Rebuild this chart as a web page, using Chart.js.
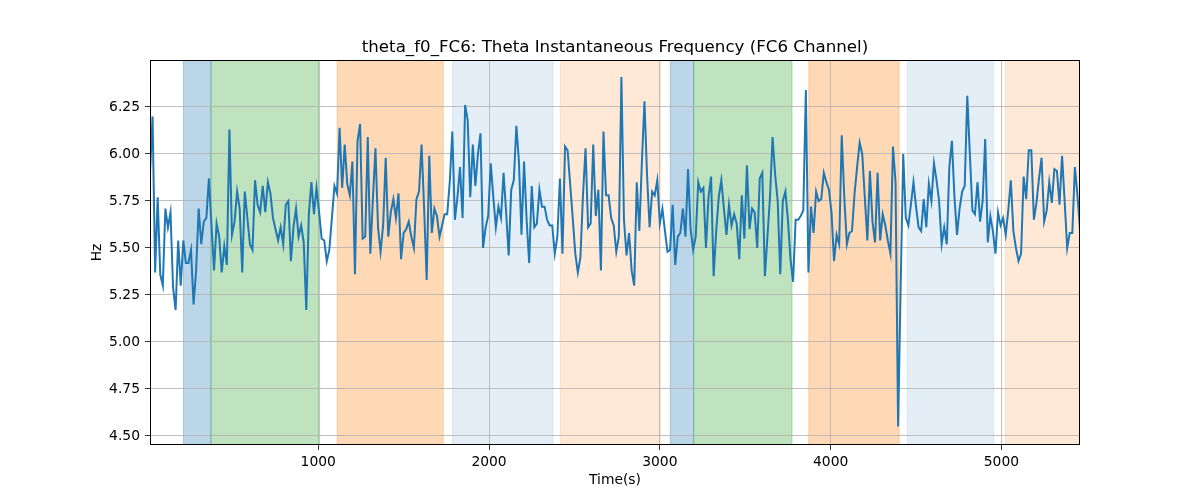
<!DOCTYPE html>
<html>
<head>
<meta charset="utf-8">
<script src="https://cdn.jsdelivr.net/npm/chart.js@4.4.1/dist/chart.umd.min.js"></script>
<style>
  html, body { margin: 0; padding: 0; background: #fff; }
  #wrap { width: 1200px; height: 500px; }
</style>
</head>
<body>
<div id="wrap"><canvas id="chart-theta" width="1200" height="500"></canvas></div>
<script>
// theta instantaneous frequency, FC6 channel, one sample every 15 s
const sampleStep = 15;
const thetaFreq = [
  5.90,
  6.20, 5.37, 5.77, 5.36, 5.30, 5.71, 5.61, 5.69, 5.29, 5.17, 5.54, 5.30, 5.54, 5.42, 5.42, 5.49,
  5.20, 5.38, 5.71, 5.52, 5.64, 5.66, 5.87, 5.62, 5.38, 5.63, 5.56, 5.37, 5.51, 5.41, 6.13, 5.57,
  5.64, 5.80, 5.71, 5.37, 5.80, 5.66, 5.52, 5.49, 5.86, 5.73, 5.69, 5.83, 5.69, 5.85, 5.79,
  5.66, 5.60, 5.54, 5.61, 5.52, 5.73, 5.75, 5.43, 5.61, 5.71, 5.56, 5.62, 5.53, 5.17, 5.68, 5.85,
  5.68, 5.82, 5.69, 5.55, 5.54, 5.43, 5.49, 5.66, 5.83, 5.79, 6.14, 5.82, 6.05, 5.84, 5.78, 5.96,
  5.36, 6.07, 6.16, 5.55, 5.56, 6.09, 5.47, 5.76, 6.03, 5.61, 5.48, 5.62, 5.98, 5.56,
  5.69, 5.76, 5.66, 5.79, 5.44, 5.58, 5.60, 5.64, 5.56, 5.50, 5.76, 5.80, 6.05, 5.71, 5.33, 5.99,
  5.58, 5.71, 5.67, 5.56, 5.62, 5.68, 5.68, 5.85, 6.12, 5.65, 5.77, 5.93, 5.66, 6.26, 6.18, 5.77,
  6.05, 5.83, 6.00, 6.11, 5.50, 5.61, 5.67, 5.95, 5.77, 5.61, 5.72, 5.66, 5.90, 5.69, 5.46,
  5.81, 5.86, 6.15, 5.96, 5.57, 5.96, 5.65, 5.42, 5.83, 5.61, 5.63, 5.81, 5.72, 5.72, 5.65, 5.62,
  5.62, 5.47, 5.56, 5.87, 5.47, 6.04, 6.02, 5.84, 5.66, 5.47, 5.37, 5.45, 5.78, 6.03, 5.61, 5.63,
  6.05, 5.67, 5.81, 5.38, 6.12, 5.78, 5.78, 5.66, 5.62, 5.48, 5.56, 6.41, 5.65, 5.46, 5.58,
  5.38, 5.30, 5.85, 5.59, 5.96, 6.28, 5.89, 5.61, 5.80, 5.78, 5.86, 5.63, 5.71, 5.59, 5.48, 5.49,
  5.73, 5.41, 5.56, 5.58, 5.71, 5.56, 5.92, 5.60, 5.49, 5.56, 5.85, 5.80, 5.82, 5.50, 5.77, 5.88,
  5.35, 5.59, 5.77, 5.86, 5.71, 5.57, 5.73, 5.62, 5.68, 5.63, 5.44, 5.78, 5.55, 5.94, 5.60,
  5.71, 5.69, 5.50, 5.87, 5.90, 5.35, 5.56, 5.77, 6.09, 5.89, 5.75, 5.36, 5.75, 5.80, 5.65, 5.44,
  5.32, 5.65, 5.65, 5.67, 5.70, 6.34, 5.37, 5.72, 5.58, 5.80, 5.75, 5.76, 5.90, 5.85, 5.81, 5.69,
  5.43, 5.57, 5.52, 6.10, 5.77, 5.52, 5.58, 5.59, 5.79, 5.93, 6.06, 6.00, 5.77, 5.54, 5.91,
  5.64, 5.53, 5.90, 5.54, 5.68, 5.62, 5.54, 5.47, 6.04, 5.85, 4.55, 5.30, 6.00, 5.66, 5.62, 5.73,
  5.85, 5.72, 5.61, 5.59, 5.76, 5.61, 5.84, 5.75, 5.95, 5.86, 5.75, 5.52, 5.61, 5.52, 5.93, 6.07,
  5.77, 5.57, 5.71, 5.80, 5.83, 6.31, 6.00, 5.70, 5.68, 5.85, 5.64, 5.75, 6.08, 5.53, 5.67,
  5.59, 5.47, 5.69, 5.62, 5.66, 5.57, 5.70, 5.86, 5.59, 5.50, 5.43, 5.47, 5.88, 5.76, 6.02, 6.02,
  5.65, 5.74, 5.87, 5.98, 5.64, 5.70, 5.85, 5.74, 5.92, 5.91, 5.73, 5.99, 5.75, 5.50, 5.58, 5.58,
  5.93, 5.78, 5.60
];
const sampleTimes = thetaFreq.map((_, i) => (i + 1) * sampleStep);

// shaded task phases (seconds)
const phaseStart = [211, 372, 1111, 1785, 2417, 3061, 3198, 3872, 4450, 5023];
const phaseEnd   = [372, 1008, 1732, 2375, 3003, 3198, 3774, 4401, 4955, 5460];
const phaseKind  = ["blue", "green", "orange", "lightblue", "lightorange",
                    "blue", "green", "orange", "lightblue", "lightorange"];

const xTicks = [1000, 2000, 3000, 4000, 5000];
const yTicks = [4.50, 4.75, 5.00, 5.25, 5.50, 5.75, 6.00, 6.25];

const chartTitle = "theta_f0_FC6: Theta Instantaneous Frequency (FC6 Channel)";

const phaseColors = {
  blue: "rgba(31, 119, 180, 0.3)",
  green: "rgba(44, 160, 44, 0.3)",
  orange: "rgba(255, 127, 14, 0.3)",
  lightblue: "rgba(31, 119, 180, 0.12)",
  lightorange: "rgba(255, 127, 14, 0.17)",
};

const FONT = "'DejaVu Sans', sans-serif";

const phasePlugin = {
  id: "phases",
  beforeDraw(chart) {
    const { ctx, chartArea, scales } = chart;
    ctx.save();
    ctx.beginPath();
    ctx.rect(chartArea.left, chartArea.top, chartArea.right - chartArea.left, chartArea.bottom - chartArea.top);
    ctx.clip();
    phaseStart.forEach((s, i) => {
      const x0 = scales.x.getPixelForValue(s);
      const x1 = scales.x.getPixelForValue(phaseEnd[i]);
      ctx.fillStyle = phaseColors[phaseKind[i]];
      ctx.strokeStyle = phaseColors[phaseKind[i]];
      ctx.lineWidth = 1;
      ctx.fillRect(x0, chartArea.top, x1 - x0, chartArea.bottom - chartArea.top);
      ctx.strokeRect(x0, chartArea.top, x1 - x0, chartArea.bottom - chartArea.top);
    });
    ctx.restore();
  },
  afterDraw(chart) {
    const { ctx, chartArea } = chart;
    ctx.save();
    ctx.strokeStyle = "#000";
    ctx.lineWidth = 1;
    ctx.strokeRect(chartArea.left + 0.5, chartArea.top + 0.5,
      chartArea.right - chartArea.left - 1, chartArea.bottom - chartArea.top - 1);
    // title centred over the axes, like matplotlib
    ctx.fillStyle = "#000";
    ctx.font = "16.67px " + FONT;
    ctx.textAlign = "center";
    ctx.textBaseline = "alphabetic";
    ctx.fillText(chartTitle, (chartArea.left + chartArea.right) / 2, chartArea.top - 8.3);
    ctx.restore();
  },
};

new Chart(document.getElementById("chart-theta").getContext("2d"), {
  type: "line",
  data: {
    datasets: [
      {
        label: "theta_f0_FC6",
        data: sampleTimes.map((t, i) => ({ x: t, y: thetaFreq[i] })),
        borderColor: "#1f77b4",
        borderWidth: 2,
        pointRadius: 0,
        tension: 0,
        fill: false,
      },
    ],
  },
  options: {
    responsive: false,
    animation: false,
    layout: { padding: { left: 0, right: 120, top: 60, bottom: 0 } },
    plugins: {
      legend: { display: false },
      tooltip: { enabled: false },
      title: { display: false },
    },
    scales: {
      x: {
        type: "linear",
        min: sampleTimes[0],
        max: sampleTimes[sampleTimes.length - 1],
        afterBuildTicks: (axis) => { axis.ticks = xTicks.map((v) => ({ value: v })); },
        afterFit: (axis) => { axis.height = 55; },
        grid: { color: "#b0b0b0", lineWidth: 0.8, tickColor: "#000", tickLength: 5 },
        border: { display: false },
        ticks: {
          color: "#000",
          padding: 4,
          maxRotation: 0,
          font: { family: FONT, size: 13.89 },
          callback: (v) => String(v),
        },
        title: {
          display: true,
          text: "Time(s)",
          color: "#000",
          font: { family: FONT, size: 13.89 },
          padding: { top: 0, bottom: 11 },
        },
      },
      y: {
        min: 4.452,
        max: 6.5,
        afterBuildTicks: (axis) => { axis.ticks = yTicks.map((v) => ({ value: v })); },
        afterFit: (axis) => { axis.width = 150; },
        grid: { color: "#b0b0b0", lineWidth: 0.8, tickColor: "#000", tickLength: 5 },
        border: { display: false },
        ticks: {
          color: "#000",
          padding: 5,
          font: { family: FONT, size: 13.89 },
          callback: (v) => Number(v).toFixed(2),
        },
        title: {
          display: true,
          text: "Hz",
          color: "#000",
          font: { family: FONT, size: 13.89 },
          padding: { top: 89, bottom: 0 },
        },
      },
    },
  },
  plugins: [phasePlugin],
});
</script>
</body>
</html>
